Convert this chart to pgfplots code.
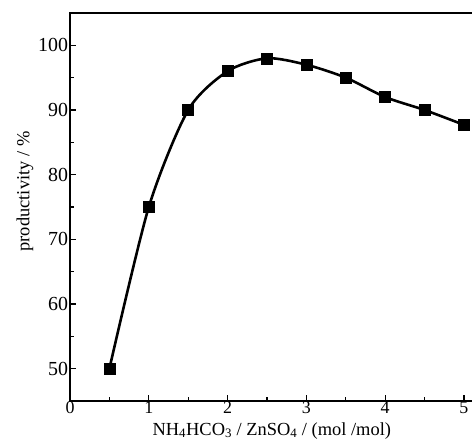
\documentclass[border=0pt]{standalone}
\usepackage{pgfplots}
\pgfplotsset{compat=1.18}
\usepackage{fontspec}
\setmainfont{Liberation Serif}
\begin{document}
\begin{tikzpicture}
\path[use as bounding box] (0,0) rectangle (472bp,448bp);
\begin{axis}[
  at={(70bp,47bp)}, anchor=south west,
  scale only axis,
  width=417.6bp, height=388bp,
  xmin=0, xmax=5.3, ymin=45, ymax=105,
  xtick={0,1,2,3,4,5}, ytick={50,60,70,80,90,100},
  minor xtick={0.5,1.5,2.5,3.5,4.5},
  minor ytick={55,65,75,85,95},
  tick align=inside,
  major tick length=6bp, minor tick length=4bp,
  tick style={line width=1.2pt, black},
  axis line style={line width=1.4pt},
  xtick pos=bottom, ytick pos=left,
  /pgf/number format/assume math mode=true,
  xticklabel style={font=\fontsize{18}{18}\selectfont, yshift=3bp},
  yticklabel style={font=\fontsize{20}{20}\selectfont, xshift=1.5bp},
  xlabel={NH\textsubscript{4}HCO\textsubscript{3} / ZnSO\textsubscript{4} / (mol /mol)},
  ylabel={productivity / \%},
  label style={font=\fontsize{18.5}{18.5}\selectfont},
  xlabel style={yshift=-2bp, xshift=-7bp},
  ylabel style={at={(ticklabel cs:0.54)}, yshift=-2bp},
]
\addplot[line width=2.6pt, black, smooth, tension=0.45, mark=square*, mark size=5.5bp, mark options={solid, line width=0.5pt}]
coordinates {
(0.5,50) (1,75) (1.5,90) (2,96) (2.5,98) (3,97) (3.5,95) (4,92) (4.5,90) (5,87.7)
};
\end{axis}
\end{tikzpicture}
\end{document}
